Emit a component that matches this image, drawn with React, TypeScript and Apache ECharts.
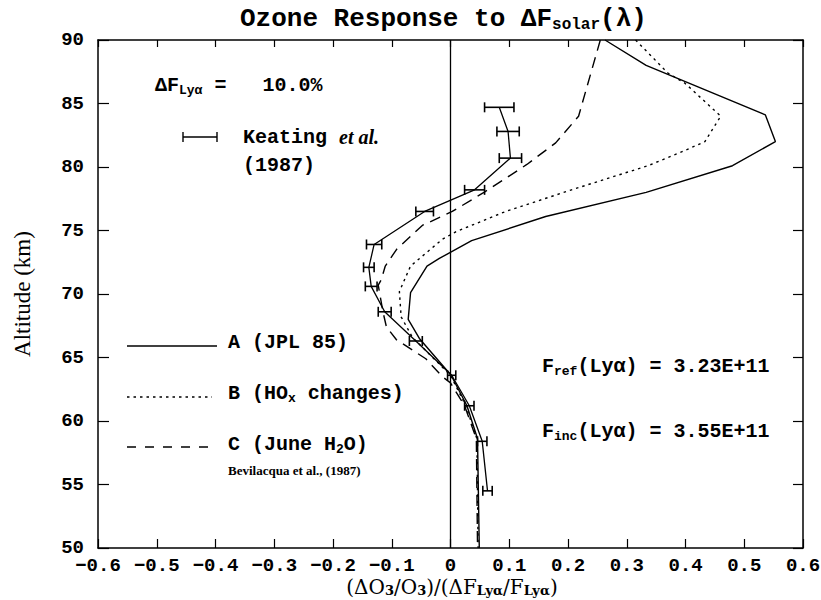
import React, { useEffect, useRef } from 'react';
import * as echarts from 'echarts';

// Axis tick labels
const xTickLabels = ['−0.6', '−0.5', '−0.4', '−0.3', '−0.2', '−0.1', '0', '0.1', '0.2', '0.3', '0.4', '0.5', '0.6'];
const yTickLabels = ['50', '55', '60', '65', '70', '75', '80', '85', '90'];

// Model A (JPL 85): altitude (km) and ozone response
const altA = [90.0, 88.0, 84.1, 82.0, 80.1, 78.0, 76.1, 74.2, 72.8, 72.2, 70.1, 68.0, 66.5, 63.6, 61.2, 58.6, 50.0];
const respA = [0.263, 0.333, 0.536, 0.553, 0.48, 0.333, 0.162, 0.036, -0.019, -0.04, -0.068, -0.072, -0.053, 0.001, 0.028, 0.046, 0.049];

// Model B (HOx changes)
const altB = [90.0, 87.4, 86.6, 84.0, 82.0, 81.3, 80.1, 78.2, 76.5, 74.9, 74.3, 72.2, 70.2, 68.2, 66.6, 63.6, 61.2, 58.6, 50.0];
const respB = [0.315, 0.37, 0.399, 0.46, 0.433, 0.399, 0.336, 0.206, 0.094, 0.009, -0.014, -0.068, -0.087, -0.084, -0.065, 0.0, 0.026, 0.045, 0.047];

// Model C (June H2O)
const altC = [90.0, 84.0, 81.9, 80.2, 78.0, 76.5, 75.4, 73.5, 72.2, 71.1, 70.7, 68.6, 67.4, 66.4, 64.9, 63.5, 63.0, 61.2, 58.6, 50.0];
const respC = [0.255, 0.218, 0.179, 0.13, 0.057, 0.003, -0.048, -0.092, -0.111, -0.118, -0.123, -0.115, -0.109, -0.092, -0.042, -0.014, 0.0, 0.024, 0.044, 0.046];

// Keating et al. (1987) observations with error half-widths
const keatingAlt = [84.7, 82.8, 80.7, 78.2, 76.5, 73.9, 72.1, 70.6, 68.6, 66.3, 63.6, 61.2, 58.4, 54.5];
const keatingResp = [0.083, 0.098, 0.102, 0.041, -0.044, -0.13, -0.139, -0.135, -0.112, -0.059, 0.002, 0.032, 0.054, 0.063];
const keatingErr = [0.025, 0.019, 0.019, 0.017, 0.015, 0.013, 0.009, 0.01, 0.011, 0.011, 0.007, 0.008, 0.008, 0.008];

const MONO = '"Liberation Mono", "DejaVu Sans Mono", monospace';
const SERIF = '"Liberation Serif", "DejaVu Serif", serif';
const SERIF2 = '"DejaVu Serif", "Liberation Serif", serif';

const monoRich = (size: number) => ({
  m: { fontFamily: MONO, fontSize: size, fontWeight: 'bold', color: '#000' },
  s: { fontFamily: MONO, fontSize: Math.round(size * 0.63), fontWeight: 'bold', color: '#000', padding: [Math.round(size * 0.5), 0, 0, 0] },
  i: { fontFamily: SERIF, fontSize: size, fontWeight: 'bold', fontStyle: 'italic', color: '#000' },
});

const pairs = (alt: number[], v: number[]) => alt.map((a, i) => [v[i], a]);

const txt = (x: number, y: number, text: string, size = 20) => ({
  type: 'text',
  x,
  y,
  style: { text, rich: monoRich(size), verticalAlign: 'middle', align: 'left', fill: '#000' },
});

const seg = (x1: number, y1: number, x2: number, y2: number, dash?: number[]) => ({
  type: 'line',
  shape: { x1, y1, x2, y2 },
  style: { stroke: '#000', lineWidth: 1.4, lineDash: dash },
});

export default function App() {
  const ref = useRef<HTMLDivElement>(null);

  useEffect(() => {
    if (!ref.current) return;
    const chart = echarts.init(ref.current, undefined, { renderer: 'svg' });

    const axisLine = { show: true, onZero: false, lineStyle: { color: '#000', width: 1.5 } };

    chart.setOption({
      animation: false,
      backgroundColor: '#fff',
      title: {
        left: 240,
        top: 5,
        padding: 0,
        text: '{m|Ozone Response to ΔF}{s|solar}{m|(λ)}',
        textStyle: {
          rich: {
            m: { fontFamily: MONO, fontSize: 26, fontWeight: 'bold', color: '#000' },
            s: { fontFamily: MONO, fontSize: 16, fontWeight: 'bold', color: '#000', padding: [12, 0, 0, 0] },
          },
        },
      },
      grid: { left: 98, right: 18, top: 40, bottom: 52, containLabel: false, outerBoundsMode: 'none' },
      xAxis: [
        {
          type: 'value',
          min: -0.6,
          max: 0.6,
          interval: 0.1,
          position: 'bottom',
          axisLine,
          axisTick: { show: true, inside: true, length: 9, lineStyle: { color: '#000', width: 1.2 } },
          axisLabel: {
            formatter: (v: number) => xTickLabels[Math.round((v + 0.6) * 10)],
            color: '#000',
            fontFamily: MONO,
            fontSize: 19,
            fontWeight: 'bold',
            margin: 8,
          },
          splitLine: { show: false },
        },
        {
          type: 'value',
          min: -0.6,
          max: 0.6,
          interval: 0.1,
          position: 'top',
          axisLine,
          axisTick: { show: true, inside: true, length: 7, lineStyle: { color: '#000', width: 1.2 } },
          axisLabel: { show: false },
          splitLine: { show: false },
        },
      ],
      yAxis: [
        {
          type: 'value',
          min: 50,
          max: 90,
          interval: 5,
          position: 'left',
          axisLine,
          axisTick: { show: true, inside: true, length: 11, lineStyle: { color: '#000', width: 1.2 } },
          axisLabel: {
            formatter: (v: number) => yTickLabels[Math.round((v - 50) / 5)],
            color: '#000',
            fontFamily: MONO,
            fontSize: 19,
            fontWeight: 'bold',
            margin: 14,
          },
          splitLine: { show: false },
          name: 'Altitude (km)',
          nameLocation: 'middle',
          nameGap: 64,
          nameTextStyle: { fontFamily: SERIF, fontSize: 23, color: '#000' },
        },
        {
          type: 'value',
          min: 50,
          max: 90,
          interval: 5,
          position: 'right',
          axisLine,
          axisTick: { show: true, inside: true, length: 10, lineStyle: { color: '#000', width: 1.2 } },
          axisLabel: { show: false },
          splitLine: { show: false },
        },
      ],
      series: [
        {
          name: 'A (JPL 85)',
          type: 'line',
          data: pairs(altA, respA),
          showSymbol: false,
          lineStyle: { color: '#000', width: 1.4, type: 'solid' },
          markLine: {
            silent: true,
            symbol: ['none', 'none'],
            label: { show: false },
            lineStyle: { color: '#000', width: 1.3, type: 'solid' },
            data: [{ xAxis: 0 }],
          },
        },
        {
          name: 'B (HOx changes)',
          type: 'line',
          data: pairs(altB, respB),
          showSymbol: false,
          lineStyle: { color: '#000', width: 1.4, type: [2.5, 4] },
        },
        {
          name: 'C (June H2O)',
          type: 'line',
          data: pairs(altC, respC),
          showSymbol: false,
          lineStyle: { color: '#000', width: 1.4, type: [11, 7] },
        },
        {
          name: 'Keating et al. (1987)',
          type: 'line',
          data: pairs(keatingAlt, keatingResp),
          showSymbol: false,
          lineStyle: { color: '#000', width: 1.3, type: 'solid' },
        },
        {
          name: 'Keating error bars',
          type: 'custom',
          data: keatingAlt.map((a, i) => [keatingResp[i] - keatingErr[i], keatingResp[i] + keatingErr[i], a]),
          encode: { x: [0, 1], y: 2 },
          renderItem: (_params: any, api: any) => {
            const lo = api.coord([api.value(0), api.value(2)]);
            const hi = api.coord([api.value(1), api.value(2)]);
            const h = 5;
            const style = { stroke: '#000', lineWidth: 1.6 };
            return {
              type: 'group',
              children: [
                { type: 'line', shape: { x1: lo[0], y1: lo[1], x2: hi[0], y2: hi[1] }, style },
                { type: 'line', shape: { x1: lo[0], y1: lo[1] - h, x2: lo[0], y2: lo[1] + h }, style },
                { type: 'line', shape: { x1: hi[0], y1: hi[1] - h, x2: hi[0], y2: hi[1] + h }, style },
              ],
            };
          },
        },
      ],
      graphic: [
        // x-axis title
        {
          type: 'text',
          x: 452,
          y: 587,
          style: {
            text: '{m|(ΔO}{s|3}{m|/O}{s|3}{m|)/(ΔF}{s|Lyα}{m|/F}{s|Lyα}{m|)}',
            align: 'center',
            verticalAlign: 'middle',
            rich: {
              m: { fontFamily: SERIF2, fontSize: 20, color: '#000' },
              s: { fontFamily: SERIF2, fontSize: 13, color: '#000', fontWeight: 'bold', padding: [6, 0, 0, 0] },
            },
          },
        },
        txt(155, 85, '{m|ΔF}{s|Lyα}{m| =   10.0%}'),
        seg(183, 137, 217, 137),
        seg(183, 132, 183, 142),
        seg(217, 132, 217, 142),
        txt(243, 137, '{m|Keating }{i|et al.}'),
        txt(243, 165, '{m|(1987)}'),
        seg(127, 346, 217, 346),
        seg(127, 397, 212, 397, [2.5, 4]),
        seg(127, 447, 217, 447, [9, 9]),
        txt(228, 342, '{m|A (JPL 85)}'),
        txt(228, 393, '{m|B (HO}{s|x}{m| changes)}'),
        txt(228, 444, '{m|C (June H}{s|2}{m|O)}'),
        {
          type: 'text',
          x: 228,
          y: 470,
          style: {
            text: 'Bevilacqua et al., (1987)',
            font: 'bold 13px "Liberation Serif", serif',
            fill: '#000',
            verticalAlign: 'middle',
          },
        },
        txt(542, 366, '{m|F}{s|ref}{m|(Lyα) = 3.23E+11}'),
        txt(542, 431, '{m|F}{s|inc}{m|(Lyα) = 3.55E+11}'),
      ],
    });

    return () => chart.dispose();
  }, []);

  return (
    <div
      ref={ref}
      style={{ position: 'fixed', left: 0, top: 0, width: 821, height: 600, background: '#fff' }}
    />
  );
}
